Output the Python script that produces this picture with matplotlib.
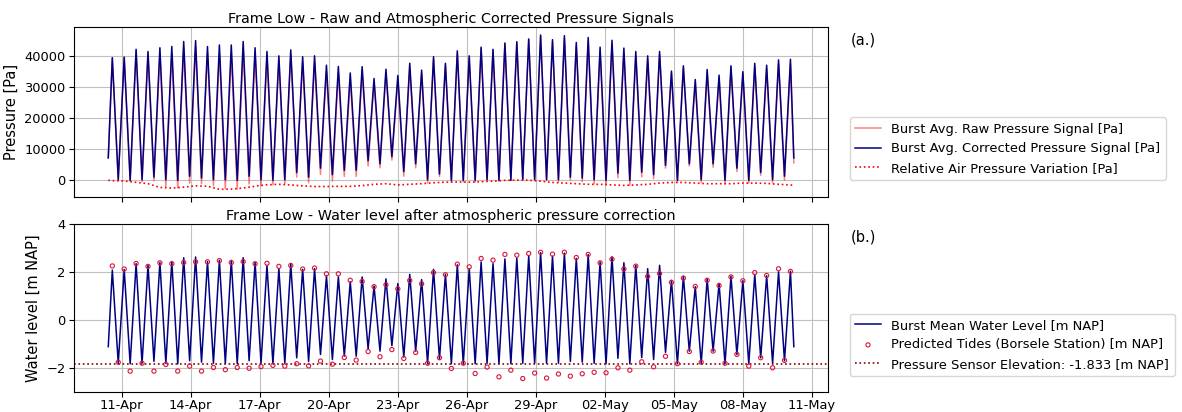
import matplotlib
matplotlib.use("Agg")
import numpy as np
import pandas as pd
import matplotlib.pyplot as plt
import matplotlib.dates as mdates

# ---------------- data ----------------
first_high_water = "2023-04-10 14:13"
tide_interval = "745min"           # semi-diurnal tidal interval between high waters
low_water_delay = "372min"         # low water after each high water
series_start = "2023-04-10 10:00"
series_end = "2023-05-10 05:30"

start_pressure = 7200.0            # Pa, first burst (rising)
end_pressure = 7200.0              # Pa, last burst (falling)
start_air = 0.0
end_air = -1600.0

# corrected pressure at high waters [Pa]
high_pressure = [39400, 39600, 42100, 41400, 42600, 43000, 44600, 44900, 43000, 43500,
                 43500, 44600, 42600, 41400, 40000, 41900, 39700, 40000, 37000, 36600,
                 34500, 36500, 32700, 35700, 33700, 37600, 35400, 39700, 37600, 41600,
                 40000, 42800, 42100, 44100, 44500, 45400, 46700, 45200, 46500, 44300,
                 45900, 42800, 45000, 42500, 41400, 40000, 41400, 35100, 36800, 32400,
                 35600, 33800, 36800, 34900, 37600, 37000, 38700, 38900]

# corrected pressure at low waters [Pa]
low_pressure = [200, 0, 200, 1000, 200, 0, 1300, 700, 200, 200,
                0, 1300, 200, 0, 200, 2500, 1000, 3900, 1800, 3200,
                3200, 6300, 5300, 7600, 2800, 5300, 200, 2000, 0, 0,
                0, 200, 0, 0, 200, 200, 200, 200, 1000, 700,
                200, 0, 2300, 0, 2600, 1800, 4800, 0, 5300, 200,
                5300, 0, 3900, 0, 2500, 200, 1300]

# relative air pressure variation per tidal cycle [Pa]
air_variation = [-100, -250, -650, -1100, -2300, -2500, -2200, -1800, -1900, -2900,
                 -2850, -2500, -1900, -1450, -1300, -1500, -1800, -2000, -2000, -1950,
                 -1950, -1700, -1300, -1100, -1500, -1300, -1100, -800, -600, -550,
                 -600, -450, -300, -20, 50, 20, -300, -700, -900, -1100,
                 -1300, -1300, -1500, -1650, -1500, -1300, -900, -700, -700, -900,
                 -1100, -1100, -1100, -900, -900, -1000, -1300, -1500]

# predicted tides, Borsele station [m NAP]
pred_high = [2.26, 2.13, 2.36, 2.24, 2.39, 2.35, 2.40, 2.43, 2.43, 2.48,
             2.40, 2.44, 2.35, 2.37, 2.24, 2.28, 2.13, 2.17, 1.93, 1.93,
             1.66, 1.61, 1.39, 1.47, 1.30, 1.65, 1.51, 1.98, 1.89, 2.33,
             2.22, 2.57, 2.50, 2.74, 2.71, 2.78, 2.83, 2.75, 2.83, 2.61,
             2.74, 2.39, 2.54, 2.13, 2.25, 1.82, 1.94, 1.57, 1.75, 1.40,
             1.66, 1.44, 1.80, 1.64, 1.98, 1.86, 2.14, 2.03]
pred_low = [-1.77, -2.14, -1.81, -2.14, -1.86, -2.14, -1.93, -2.14, -1.99, -2.08,
            -1.99, -2.02, -1.95, -1.90, -1.93, -1.83, -1.92, -1.72, -1.85, -1.57,
            -1.68, -1.32, -1.54, -1.24, -1.61, -1.36, -1.81, -1.58, -2.03, -1.81,
            -2.24, -1.97, -2.38, -2.10, -2.45, -2.22, -2.43, -2.26, -2.35, -2.25,
            -2.19, -2.21, -2.00, -2.10, -1.75, -1.96, -1.52, -1.83, -1.32, -1.77,
            -1.30, -1.81, -1.44, -1.93, -1.58, -2.00, -1.69]

sensor_elevation = -1.833          # m NAP
rho = 1025.0
g = 9.81

tick_dates = pd.date_range("2023-04-11", "2023-05-11", freq="3D")

# ---------------- assemble series ----------------
high_times = pd.date_range(first_high_water, periods=len(high_pressure), freq=tide_interval)
low_times = high_times[:-1] + pd.Timedelta(low_water_delay)

times = [pd.Timestamp(series_start)]
corr = [start_pressure]
air_at = [start_air]
for i in range(len(high_pressure)):
    times.append(high_times[i]); corr.append(high_pressure[i]); air_at.append(air_variation[i])
    if i < len(low_pressure):
        times.append(low_times[i]); corr.append(low_pressure[i]); air_at.append(air_variation[i])
times.append(pd.Timestamp(series_end)); corr.append(end_pressure); air_at.append(end_air)

times = pd.DatetimeIndex(times)
corr = np.array(corr, dtype=float)
air_at = np.array(air_at, dtype=float)
raw = corr + air_at

air_times = pd.DatetimeIndex([pd.Timestamp(series_start)] + list(high_times) + [pd.Timestamp(series_end)])
air_vals = np.array([start_air] + air_variation + [end_air], dtype=float)

water_level = sensor_elevation + corr / (rho * g)

pred_times = pd.DatetimeIndex(list(high_times) + list(low_times))
pred_vals = np.array(pred_high + pred_low)

# ---------------- plot ----------------
fig = plt.figure(figsize=(11.82, 4.12), dpi=100)
ax1 = fig.add_axes([0.0626, 0.5218, 0.638, 0.412])
ax2 = fig.add_axes([0.0626, 0.0493, 0.638, 0.4063], sharex=ax1)

fs_tick = 9.4
fs_lab = 10.5
fs_title = 10.4
fs_leg = 9.4

ax1.plot(times, raw, color="red", alpha=0.5, lw=1.1, label="Burst Avg. Raw Pressure Signal [Pa]")
ax1.plot(times, corr, color="navy", lw=1.1, label="Burst Avg. Corrected Pressure Signal [Pa]")
ax1.plot(air_times, air_vals, color="red", ls=":", lw=1.2, label="Relative Air Pressure Variation [Pa]")
ax1.set_ylabel("Pressure [Pa]", fontsize=fs_lab)
ax1.set_title("Frame Low - Raw and Atmospheric Corrected Pressure Signals", fontsize=fs_title, pad=3)
ax1.grid(True, color="#c0c0c0", lw=0.8)
ax1.tick_params(labelsize=fs_tick, labelbottom=False, pad=2.5)
ax1.legend(loc="center left", bbox_to_anchor=(1.02, 0.285), fontsize=fs_leg, framealpha=0.8)
ax1.text(1.03, 0.925, "(a.)", transform=ax1.transAxes, fontsize=10.5, va="center")

ax2.plot(times, water_level, color="navy", lw=1.1, label="Burst Mean Water Level [m NAP]")
ax2.scatter(pred_times, pred_vals, s=9, facecolors="none", edgecolors="crimson", lw=0.8,
            label="Predicted Tides (Borsele Station) [m NAP]", zorder=3)
ax2.axhline(sensor_elevation, color="darkred", ls=":", lw=1.2,
            label="Pressure Sensor Elevation: -1.833 [m NAP]")
ax2.set_ylim(-3, 4)
ax2.set_yticks([-2, 0, 2, 4])
ax2.set_ylabel("Water level [m NAP]", fontsize=fs_lab)
ax2.set_title("Frame Low - Water level after atmospheric pressure correction", fontsize=fs_title, pad=3)
ax2.grid(True, color="#c0c0c0", lw=0.8)
ax2.tick_params(labelsize=fs_tick, pad=2.5)
ax2.tick_params(axis="x", pad=1.5)
ax2.legend(loc="center left", bbox_to_anchor=(1.02, 0.28), fontsize=fs_leg, framealpha=0.8)
ax2.text(1.03, 0.925, "(b.)", transform=ax2.transAxes, fontsize=10.5, va="center")

ax2.set_xticks(tick_dates)
ax2.xaxis.set_major_formatter(mdates.DateFormatter("%d-%b"))

fig.savefig("out.png", dpi=100)
